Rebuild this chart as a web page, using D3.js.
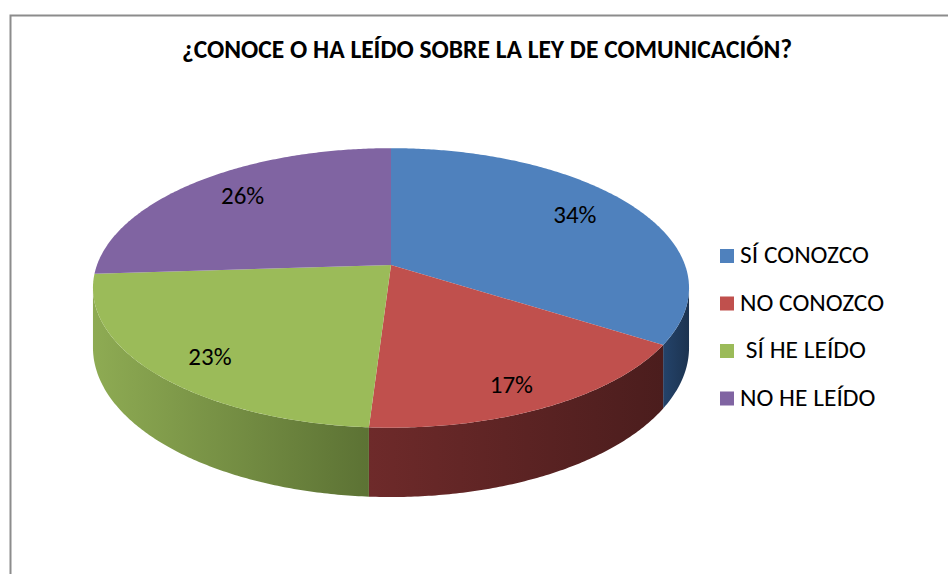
<!DOCTYPE html>
<html>
<head>
<meta charset="utf-8">
<script src="https://cdn.jsdelivr.net/npm/d3@7"></script>
<style>
  body { margin: 0; background: #fff; }
  text { font-family: Carlito, Lato, "Open Sans", sans-serif; }
</style>
</head>
<body>
<svg id="chart" width="948" height="574"></svg>
<script>
// data
var categories = ["SÍ CONOZCO", "NO CONOZCO", " SÍ HE LEÍDO", "NO HE LEÍDO"];
var values = [34, 17, 23, 26];
var title = "¿CONOCE O HA LEÍDO SOBRE LA LEY DE COMUNICACIÓN?";

// colours (top face, side light, side dark)
var topColors = ["#4F81BD", "#C0504D", "#9BBB59", "#8064A2"];
var sideLight = ["#24436A", "#6E2A2A", "#8EAB53", "#5C4676"];
var sideDark  = ["#1C3350", "#4B1D1D", "#5C7234", "#3F2F52"];

var svg = d3.select("#chart"),
    width = +svg.attr("width"),
    height = +svg.attr("height");

// chart frame
svg.append("rect")
    .attr("x", 10.5).attr("y", 15.5)
    .attr("width", width + 20).attr("height", height + 20)
    .attr("fill", "none")
    .attr("stroke", "#8c8c8c")
    .attr("stroke-width", 2);

svg.append("text")
    .attr("x", 487).attr("y", 58)
    .attr("text-anchor", "middle")
    .style("font-weight", "bold")
    .style("font-size", "25.5px")
    .attr("fill", "#000")
    .text(title);

// pseudo 3d pie: perspective-projected disc
var cx = 391, cy = 265, RX = 294, RY = 136, A = 0.164, DEPTH = 58;

function proj(theta, r, drop) {
  var s = Math.sin(theta), c = Math.cos(theta);
  var w = 1 + A * r * c;
  return [cx + RX * r * s / w, cy - RY * r * c / w + drop / w];
}

function arcPoints(a0, a1, drop) {
  var n = Math.max(2, Math.ceil(Math.abs(a1 - a0) / 0.01));
  return d3.range(n + 1).map(function(i) {
    return proj(a0 + (a1 - a0) * i / n, 1, drop);
  });
}

var pie = d3.pie().sort(null).value(function(d) { return d; });
var arcs = pie(values);

var line = d3.line();
var defs = svg.append("defs");

// visible front band of the side wall
var frontStart = Math.acos(-A), frontEnd = 2 * Math.PI - Math.acos(-A);

var sides = svg.append("g").attr("class", "sides");
arcs.forEach(function(d, i) {
  var a0 = Math.max(d.startAngle, frontStart),
      a1 = Math.min(d.endAngle, frontEnd);
  if (a1 <= a0) return;
  var topPts = arcPoints(a0, a1, 0),
      botPts = arcPoints(a1, a0, DEPTH);
  var pts = topPts.concat(botPts);
  var xs = d3.extent(pts, function(p) { return p[0]; });
  var g = defs.append("linearGradient")
      .attr("id", "side" + i)
      .attr("gradientUnits", "userSpaceOnUse")
      .attr("x1", xs[0]).attr("x2", xs[1])
      .attr("y1", 0).attr("y2", 0);
  g.append("stop").attr("offset", 0).attr("stop-color", sideLight[i]);
  g.append("stop").attr("offset", 1).attr("stop-color", sideDark[i]);
  sides.append("path")
      .attr("d", line(pts) + "Z")
      .attr("fill", "url(#side" + i + ")");
});

var tops = svg.append("g").attr("class", "tops");
arcs.forEach(function(d, i) {
  var pts = [[cx, cy]].concat(arcPoints(d.startAngle, d.endAngle, 0));
  tops.append("path")
      .attr("d", line(pts) + "Z")
      .attr("fill", topColors[i]);
});

// percentage labels, pulled in from the rim
var total = d3.sum(values);
function labelPos(d) {
  var p = proj((d.startAngle + d.endAngle) / 2, 1, 0);
  return [cx + (p[0] - cx) * 0.77, cy + (p[1] - cy) * 0.84];
}
svg.append("g").selectAll("text")
  .data(arcs)
  .enter().append("text")
    .attr("x", function(d) { return labelPos(d)[0]; })
    .attr("y", function(d) { return labelPos(d)[1] + 9; })
    .attr("text-anchor", "middle")
    .style("font-size", "25px")
    .attr("fill", "#000")
    .text(function(d) { return Math.round(d.value / total * 100) + "%"; });

// legend
var legend = svg.append("g").attr("transform", "translate(720,249)");
var item = legend.selectAll("g")
  .data(categories)
  .enter().append("g")
    .attr("transform", function(d, i) { return "translate(0," + (i * 47.5) + ")"; });

item.append("rect")
    .attr("width", 14).attr("height", 14)
    .attr("fill", function(d, i) { return topColors[i]; });

item.append("text")
    .attr("x", 20).attr("y", 14)
    .style("font-size", "25.5px")
    .style("white-space", "pre")
    .attr("fill", "#000")
    .text(function(d) { return d; });
</script>
</body>
</html>
